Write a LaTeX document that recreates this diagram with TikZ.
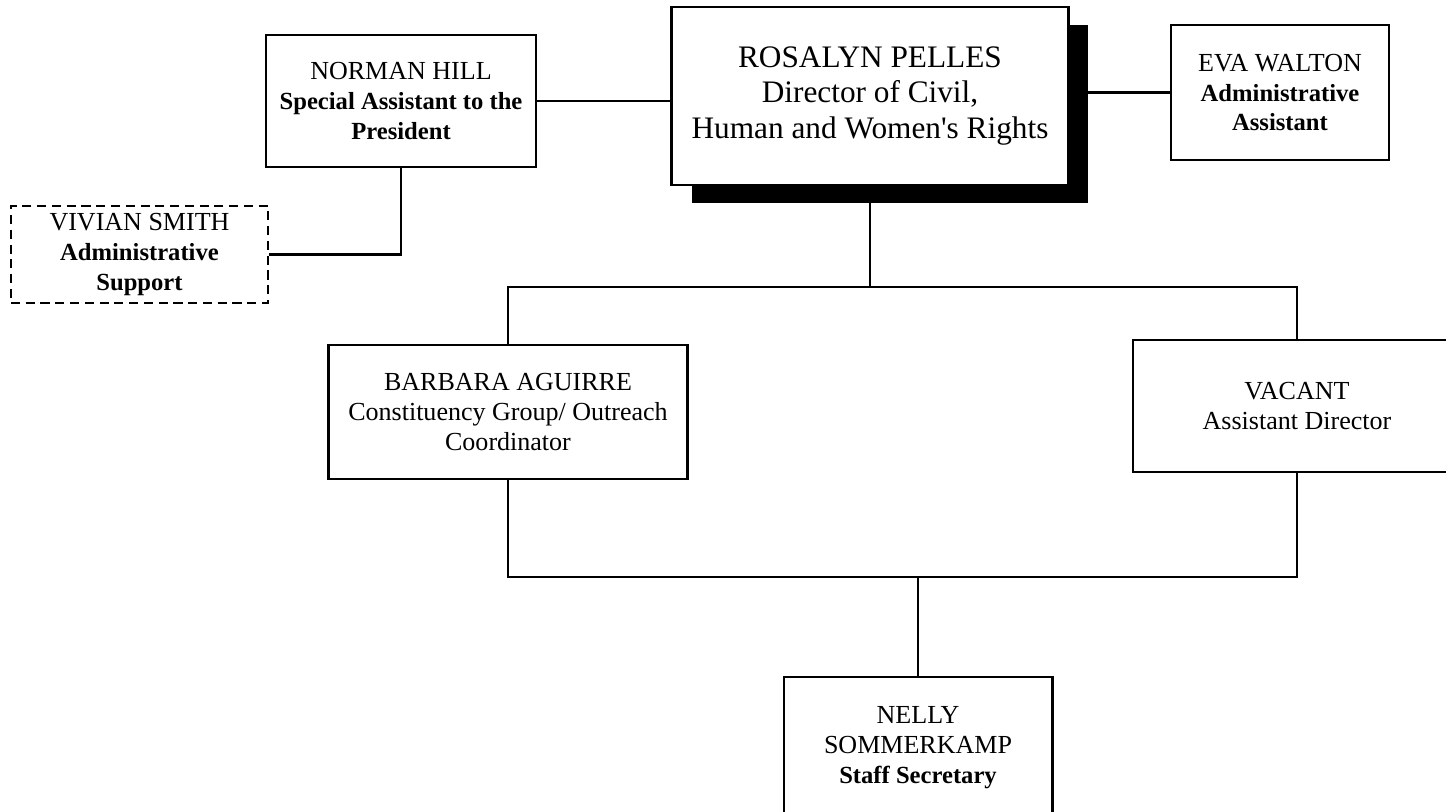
\documentclass[tikz,border=0pt]{standalone}
\usepackage{fontspec}
\setmainfont{Liberation Serif}
\usetikzlibrary{shadows}

% bold job titles
\newcommand{\jobtitle}[1]{{\fontsize{7}{8.5}\selectfont\bfseries #1}}

\begin{document}
\begin{tikzpicture}[x=0.01cm,y=-0.01cm,line width=0.8pt,
  font=\fontsize{7.4}{8.5}\selectfont,
  person/.style={draw,fill=white,align=center,inner sep=0pt},
  chief/.style={person,font=\fontsize{8.9}{10.2}\selectfont,
    drop shadow={shadow xshift=2mm,shadow yshift=-1.8mm,fill=black,opacity=1}}]

\useasboundingbox (0,0) rectangle (1446,811);

% Director with her shadow
\node[chief,minimum width=3.96cm,minimum height=1.78cm] (pelles) at (870,96)
  {ROSALYN PELLES\\Director of Civil,\\Human and Women\textquotesingle s Rights};

% Staff beside the director
\node[person,minimum width=2.7cm,minimum height=1.32cm] (hill) at (401,101)
  {NORMAN HILL\\\jobtitle{Special Assistant to the}\\\jobtitle{President}};
\node[person,minimum width=2.18cm,minimum height=1.35cm] (walton) at (1280,92.5)
  {EVA WALTON\\\jobtitle{Administrative}\\\jobtitle{Assistant}};
\node[person,dash pattern=on 2.6pt off 1.6pt,minimum width=2.57cm,minimum height=0.97cm] (smith) at (139.5,254.5)
  {VIVIAN SMITH\\\jobtitle{Administrative}\\\jobtitle{Support}};

% Second row
\node[person,minimum width=3.58cm,minimum height=1.34cm] (aguirre) at (508,412)
  {BARBARA AGUIRRE\\Constituency Group/ Outreach\\Coordinator};
\node[person,minimum width=3.28cm,minimum height=1.32cm] (vacant) at (1297,406)
  {VACANT\\Assistant Director};

% Bottom
\node[person,minimum width=2.68cm,minimum height=1.42cm] (sommerkamp) at (918,748)
  {NELLY\\SOMMERKAMP\\\jobtitle{Staff Secretary}};

% Bus lines
\coordinate (upbus) at (0,287);
\coordinate (lowbus) at (0,577);

\draw (hill.east) -- (hill.east -| pelles.west);
\draw (walton.west) -- (walton.west -| pelles.east);
\draw (smith.east) -- (smith.east -| hill.south) -- (hill.south);
\draw (pelles.south) -- (pelles.south |- upbus);
\draw (aguirre.north) -- (aguirre.north |- upbus) -- (vacant.north |- upbus) -- (vacant.north);
\draw (aguirre.south) -- (aguirre.south |- lowbus) -- (vacant.south |- lowbus) -- (vacant.south);
\draw (sommerkamp.north) -- (sommerkamp.north |- lowbus);

\end{tikzpicture}
\end{document}
